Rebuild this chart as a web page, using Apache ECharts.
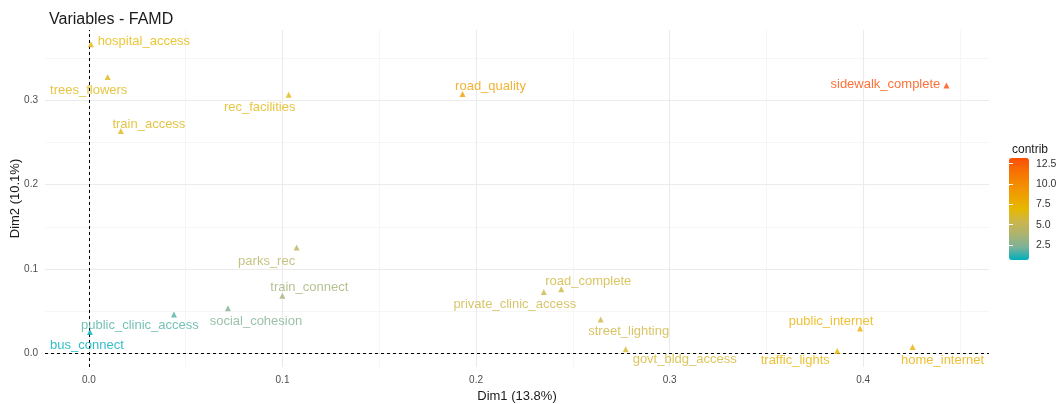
<!DOCTYPE html>
<html>
<head>
<meta charset="utf-8">
<title>Variables - FAMD</title>
<script src="https://cdn.jsdelivr.net/npm/echarts@6/dist/echarts.min.js"></script>
<style>
  html, body { margin: 0; padding: 0; background: #ffffff; }
  #chart { width: 1064px; height: 404px; }
</style>
</head>
<body>
<div id="chart"></div>
<script>
// Variable coordinates on the first two FAMD dimensions, coloured by contribution.
const variables = [
  'hospital_access', 'trees_flowers', 'train_access', 'rec_facilities',
  'road_quality', 'sidewalk_complete', 'parks_rec', 'train_connect',
  'social_cohesion', 'public_clinic_access', 'bus_connect',
  'private_clinic_access', 'road_complete', 'street_lighting',
  'govt_bldg_access', 'public_internet', 'traffic_lights', 'home_internet'
];
const dim1 = [
  0.001, 0.0097, 0.0165, 0.1032,
  0.193, 0.443, 0.1073, 0.0999,
  0.0718, 0.0439, 0.0005,
  0.235, 0.244, 0.2644,
  0.2773, 0.3984, 0.3866, 0.4255
];
const dim2 = [
  0.367, 0.328, 0.264, 0.307,
  0.308, 0.318, 0.1255, 0.0679,
  0.0532, 0.0457, 0.025,
  0.0726, 0.0758, 0.0398,
  0.0044, 0.029, 0.0024, 0.0071
];
const contrib = [
  6.9, 6.5, 6.4, 6.6,
  8.7, 13.2, 4.4, 3.5,
  2.4, 1.7, 0.65,
  5.5, 5.7, 5.6,
  5.9, 7.5, 7.3, 7.6
];

// Axis ticks and grid lines
const xTicks = [0, 0.1, 0.2, 0.3, 0.4];
const yTicks = [0, 0.1, 0.2, 0.3];
const xMinor = [0.05, 0.15, 0.25, 0.35, 0.45];
const yMinor = [0.05, 0.15, 0.25, 0.35];
const contribTicks = [2.5, 5, 7.5, 10, 12.5];

// Repelled label placement (pixel offsets from each marker)
const labelOffsets = [
  [53, -3], [-19, 13], [28, -7], [-29, 13],
  [28, -7], [-61, -1], [-30, 14], [27, -8],
  [28, 13], [-34, 11], [-3, 13],
  [-29, 13], [27, -8], [28, 12],
  [59, 10], [-29, -7], [-42, 9], [30, 13]
];

// teal -> gold -> red-orange, with intermediate stops blended in Lab space
const contribColors = [
  '#00AFBB', '#7BB298', '#ACB371', '#CAB64C', '#E7B800',
  '#EEA200', '#F48A01', '#F86F04', '#FC4E07'
];

const FONT = "'Liberation Sans', Arial, sans-serif";
const contribMin = Math.min(...contrib);
const contribMax = Math.max(...contrib);

const points = variables.map((name, i) => ({
  name: name,
  value: [dim1[i], dim2[i], contrib[i]],
  label: { offset: labelOffsets[i] }
}));

const fmt1 = v => Number(v).toFixed(1);

const chart = echarts.init(document.getElementById('chart'), null, { renderer: 'canvas' });

chart.setOption({
  animation: false,
  backgroundColor: '#ffffff',
  textStyle: { fontFamily: FONT },
  title: [
    {
      text: 'Variables - FAMD',
      left: 44, top: 7,
      textStyle: { fontFamily: FONT, fontSize: 16, fontWeight: 'normal', color: '#1a1a1a' }
    },
    {
      text: 'contrib',
      left: 1007, top: 139,
      textStyle: { fontFamily: FONT, fontSize: 12, fontWeight: 'normal', color: '#1a1a1a' }
    }
  ],
  grid: [
    { left: 45, right: 75, top: 30, bottom: 37, outerBoundsMode: 'none' },
    { left: 1009, top: 158, width: 20, height: 102, outerBoundsMode: 'none' }
  ],
  xAxis: [
    {
      type: 'value', gridIndex: 0,
      min: -0.0227, max: 0.465,
      name: 'Dim1 (13.8%)', nameLocation: 'middle', nameGap: 21,
      nameTextStyle: { fontFamily: FONT, fontSize: 13, color: '#1a1a1a' },
      axisLine: { show: false },
      axisTick: { show: true, customValues: xTicks, length: 3, lineStyle: { color: '#333333' } },
      axisLabel: { customValues: xTicks, formatter: fmt1, margin: 8, fontSize: 10, color: '#4d4d4d', fontFamily: FONT },
      splitLine: { show: false }
    },
    { type: 'value', gridIndex: 1, show: false, min: 0, max: 1 }
  ],
  yAxis: [
    {
      type: 'value', gridIndex: 0,
      min: -0.0167, max: 0.384,
      name: 'Dim2 (10.1%)', nameLocation: 'middle', nameGap: 23, nameRotate: 90,
      nameMoveOverlap: false,
      nameTextStyle: { fontFamily: FONT, fontSize: 13, color: '#1a1a1a' },
      axisLine: { show: false },
      axisTick: { show: true, customValues: yTicks, length: 3, lineStyle: { color: '#333333' } },
      axisLabel: { customValues: yTicks, formatter: fmt1, margin: 7, fontSize: 10, color: '#4d4d4d', fontFamily: FONT },
      splitLine: { show: false }
    },
    {
      type: 'value', gridIndex: 1, position: 'right', z: 10,
      min: contribMin, max: contribMax,
      axisLine: { show: false },
      axisTick: { show: true, inside: true, length: 4, customValues: contribTicks, lineStyle: { color: '#ffffff', width: 1 } },
      axisLabel: { customValues: contribTicks, formatter: fmt1, margin: 7, fontSize: 10.5, color: '#333333', fontFamily: FONT },
      splitLine: { show: false }
    },
    {
      type: 'value', gridIndex: 1, position: 'left', z: 10,
      min: contribMin, max: contribMax,
      axisLine: { show: false },
      axisTick: { show: true, inside: true, length: 4, customValues: contribTicks, lineStyle: { color: '#ffffff', width: 1 } },
      axisLabel: { show: false },
      splitLine: { show: false }
    }
  ],
  visualMap: {
    type: 'continuous',
    seriesIndex: 0,
    dimension: 2,
    min: contribMin, max: contribMax,
    calculable: false,
    hoverLink: false,
    orient: 'vertical',
    left: 1009, top: 158,
    itemWidth: 20, itemHeight: 102,
    padding: 0,
    text: null,
    inRange: { color: contribColors }
  },
  series: [
    {
      type: 'scatter',
      xAxisIndex: 0, yAxisIndex: 0,
      z: 5,
      symbol: 'triangle',
      symbolSize: 6,
      data: points,
      label: {
        show: true,
        position: 'inside',
        formatter: p => p.name,
        color: 'inherit',
        fontFamily: FONT,
        fontSize: 13
      },
      emphasis: { disabled: true }
    },
    {
      // panel grid: minor and major lines
      type: 'scatter',
      xAxisIndex: 0, yAxisIndex: 0,
      z: 1,
      data: [],
      silent: true,
      markLine: {
        silent: true,
        symbol: 'none',
        label: { show: false },
        animation: false,
        data: [
          ...xMinor.map(v => ({ xAxis: v, lineStyle: { color: '#f0f0f0', width: 0.6, type: 'solid' } })),
          ...yMinor.map(v => ({ yAxis: v, lineStyle: { color: '#f0f0f0', width: 0.6, type: 'solid' } })),
          ...xTicks.map(v => ({ xAxis: v, lineStyle: { color: '#ebebeb', width: 1.1, type: 'solid' } })),
          ...yTicks.map(v => ({ yAxis: v, lineStyle: { color: '#ebebeb', width: 1.1, type: 'solid' } }))
        ]
      }
    },
    {
      // reference lines through the origin
      type: 'scatter',
      xAxisIndex: 0, yAxisIndex: 0,
      z: 3,
      data: [],
      silent: true,
      markLine: {
        silent: true,
        symbol: 'none',
        label: { show: false },
        animation: false,
        lineStyle: { color: '#000000', width: 1, type: [3, 3] },
        data: [{ xAxis: 0 }, { yAxis: 0 }]
      }
    }
  ]
});
</script>
</body>
</html>
